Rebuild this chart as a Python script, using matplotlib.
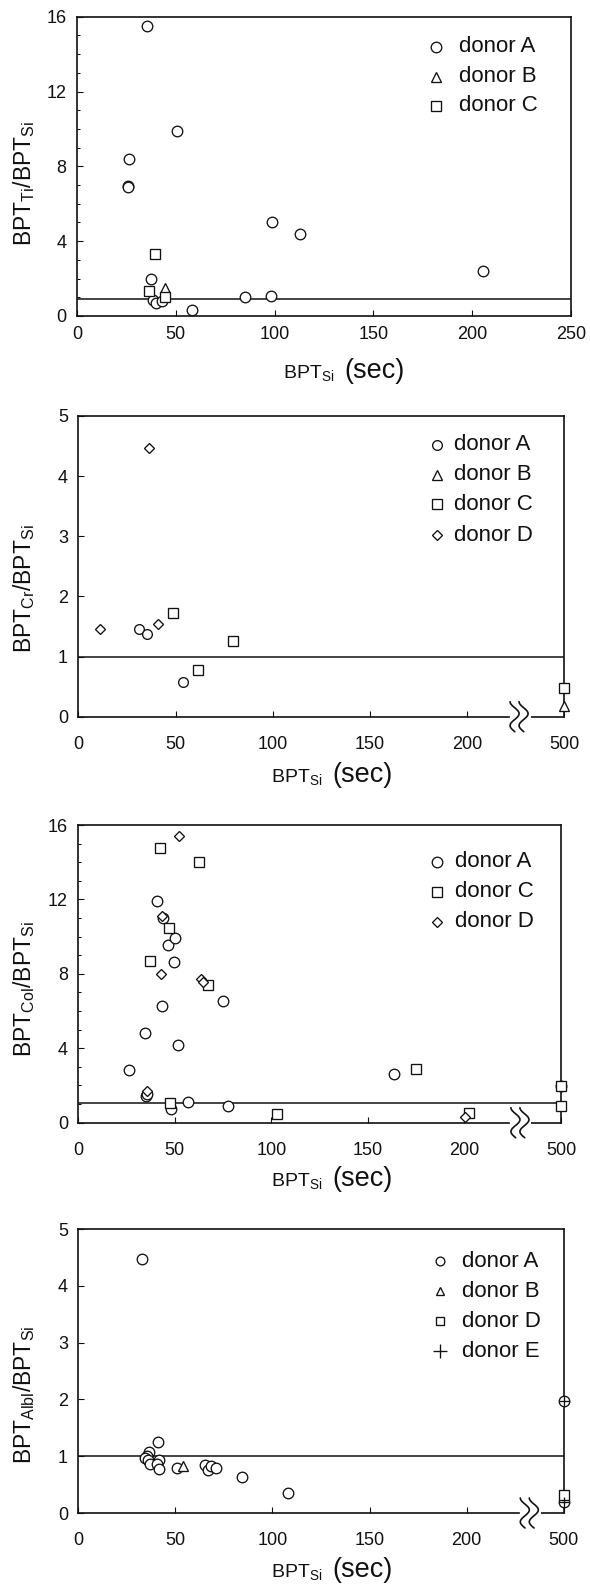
import matplotlib
matplotlib.use('Agg')
import matplotlib.pyplot as plt
import numpy as np
from matplotlib.ticker import MultipleLocator

plt.rcParams['font.family'] = ['Liberation Sans', 'DejaVu Sans']
plt.rcParams['mathtext.fontset'] = 'custom'
plt.rcParams['mathtext.rm'] = 'Liberation Sans'
plt.rcParams['mathtext.it'] = 'Liberation Sans:italic'
plt.rcParams['mathtext.bf'] = 'Liberation Sans:bold'

# ---------------- data ----------------
# Panel 1: Ti
ti_A_x = [35.6, 26.1, 25.7, 25.9, 50.6, 98.7, 113.0, 205.4, 37.7, 38.3, 40.2, 43.1, 58.0, 85.0, 98.0]
ti_A_y = [15.5, 8.4, 6.95, 6.9, 9.9, 5.0, 4.4, 2.4, 2.0, 0.84, 0.68, 0.8, 0.32, 1.0, 1.07]
ti_B_x = [44.3]
ti_B_y = [1.5]
ti_C_x = [39.7, 36.4, 44.3]
ti_C_y = [3.3, 1.35, 1.0]
ti_ref = 0.9

# Panel 2: Cr  (x = 250 is the broken-axis position labelled 500)
cr_A_x = [31.1, 35.4, 53.8]
cr_A_y = [1.45, 1.37, 0.57]
cr_B_x = [250]
cr_B_y = [0.18]
cr_C_x = [48.5, 79.5, 61.7, 250]
cr_C_y = [1.73, 1.26, 0.78, 0.48]
cr_D_x = [36.2, 11.0, 40.8]
cr_D_y = [4.46, 1.45, 1.54]
cr_ref = 1.0

# Panel 3: Col
col_A_x = [40.9, 44.0, 46.4, 49.9, 49.5, 43.4, 74.7, 34.4, 51.6, 26.4, 35.2, 35.8, 56.9, 47.9, 77.7, 163.3, 250]
col_A_y = [11.92, 11.02, 9.55, 9.94, 8.62, 6.29, 6.56, 4.80, 4.17, 2.83, 1.43, 1.54, 1.11, 0.72, 0.90, 2.60, 1.99]
col_C_x = [42.3, 62.4, 46.9, 37.0, 67.1, 175.1, 47.5, 103.1, 202.1, 250, 250]
col_C_y = [14.76, 14.01, 10.48, 8.67, 7.40, 2.88, 1.08, 0.45, 0.50, 1.99, 0.90]
col_D_x = [52.2, 43.4, 42.8, 63.8, 64.7, 35.8, 200.5]
col_D_y = [15.41, 11.13, 7.99, 7.72, 7.58, 1.72, 0.30]
col_ref = 1.07

# Panel 4: Albl
alb_A_x = [32.9, 41.1, 36.2, 35.3, 34.1, 35.9, 37.0, 41.5, 40.5, 41.7, 50.6, 65.3, 66.7, 68.2, 70.7, 84.5, 108.1, 250, 250]
alb_A_y = [4.48, 1.25, 1.07, 1.01, 0.96, 0.93, 0.87, 0.93, 0.86, 0.77, 0.80, 0.85, 0.76, 0.82, 0.80, 0.63, 0.35, 1.98, 0.19]
alb_B_x = [53.7]
alb_B_y = [0.83]
alb_D_x = [250]
alb_D_y = [0.31]
alb_E_x = [250, 250]
alb_E_y = [1.98, 0.19]
alb_ref = 1.0

x_ticks = [0, 50, 100, 150, 200, 250]
x_labels_plain = ['0', '50', '100', '150', '200', '250']
x_labels_break = ['0', '50', '100', '150', '200', '500']

# ---------------- figure ----------------
W, H = 590, 1585
fig = plt.figure(figsize=(W / 100, H / 100), dpi=100)
fig.patch.set_facecolor('white')
INK = '#111111'


def add_axes(l, t, r, b):
    return fig.add_axes([l / W, 1 - b / H, (r - l) / W, (b - t) / H]), (r - l), (b - t)


MK = dict(o=dict(marker='o', ms=7.6),
          s=dict(marker='s', ms=7.6),
          d=dict(marker='D', ms=5.0),
          t=dict(marker='^', ms=7.6),
          p=dict(marker='+', ms=8.0))


def pts(ax, xs, ys, key, ms=None):
    kw = dict(MK[key])
    if ms is not None:
        kw['ms'] = ms
    face = 'none' if key == 'p' else 'white'
    ax.plot(xs, ys, ls='none', mfc=face, mec=INK, mew=0.95, clip_on=False, zorder=4, **kw)


def style(ax, ymax, ystep, minor, xlabels, xpad):
    ax.set_xlim(0, 250)
    ax.set_ylim(0, ymax)
    ax.set_xticks(x_ticks)
    ax.set_xticklabels(xlabels)
    ax.set_yticks(np.arange(0, ymax + 0.01, ystep))
    if minor:
        ax.yaxis.set_minor_locator(MultipleLocator(1))
    for s in ax.spines.values():
        s.set_linewidth(1.2)
        s.set_color(INK)
    ax.tick_params(axis='both', which='major', direction='in', length=4, width=0.8,
                   labelsize=13, colors=INK, top=False, right=False)
    ax.tick_params(axis='y', which='minor', direction='in', length=2.5, width=0.7, right=False)
    ax.tick_params(axis='x', pad=xpad)
    ax.tick_params(axis='y', pad=7.5)


def legend(ax, entries, mx, tx, rows, fs=16):
    for (key, lab, ms), ry in zip(entries, rows):
        kw = dict(MK[key])
        kw['ms'] = ms
        face = 'none' if key == 'p' else 'white'
        ax.plot([mx], [ry], ls='none', mfc=face, mec=INK, mew=0.95,
                transform=ax.transAxes, clip_on=False, **kw)
        ax.text(tx, ry, lab, transform=ax.transAxes, ha='left', va='center',
                fontsize=fs, color=INK)


def axis_break(ax, c, wpx, hpx):
    u = 250.0 / wpx
    tr = ax.get_xaxis_transform()
    ax.spines['bottom'].set_bounds(0, c - 11 * u)
    ax.plot([c + 11 * u, 250], [0, 0], transform=tr, color=INK, lw=1.2,
            solid_capstyle='butt', clip_on=False)
    t = np.linspace(0, 0.88, 80)
    dx = 4.5 - 4.5 * np.cos(2 * np.pi * t / 0.7)
    dy = 15 - 30 * t / 0.88
    for off in (-9.5, -0.5):
        ax.plot(c + (off + dx) * u, dy / hpx, transform=tr, color=INK, lw=1.2,
                clip_on=False, solid_capstyle='round')


def ylabel(ax_box, frac, text):
    t, b = ax_box
    yc = b - frac * (b - t)
    fig.text(24 / W, 1 - yc / H, text, rotation=90, ha='center', va='center',
             fontsize=16.5, color=INK)


def xlabel(x0, base):
    fig.text(x0 / W, 1 - base / H, r'BPT$_\mathregular{Si}$', ha='left', va='baseline',
             fontsize=14, color=INK)
    fig.text((x0 + 61) / W, 1 - base / H, '(sec)', ha='left', va='baseline',
             fontsize=19.5, color=INK)


# ---------- Panel 1 ----------
ax1, w1, h1 = add_axes(77, 16.7, 571, 316)
style(ax1, 16, 4, True, x_labels_plain, 7)
ax1.axhline(ti_ref, color=INK, lw=1.1, zorder=2)
pts(ax1, ti_A_x, ti_A_y, 'o')
pts(ax1, ti_B_x, ti_B_y, 't')
pts(ax1, ti_C_x, ti_C_y, 's')
legend(ax1, [('o', 'donor A', 7.6), ('t', 'donor B', 7.3), ('s', 'donor C', 7.6)],
       0.726, 0.774, [0.90, 0.80, 0.702])
ylabel((16.7, 316), 0.444, r'BPT$_\mathregular{Ti}$/BPT$_\mathregular{Si}$')
xlabel(283, 378)

# ---------- Panel 2 ----------
ax2, w2, h2 = add_axes(78.3, 416, 564.3, 716.7)
style(ax2, 5, 1, False, x_labels_break, 14)
ax2.axhline(cr_ref, color=INK, lw=1.1, zorder=2)
axis_break(ax2, 227, w2, h2)
pts(ax2, cr_A_x, cr_A_y, 'o', 7.0)
pts(ax2, cr_B_x, cr_B_y, 't')
pts(ax2, cr_C_x, cr_C_y, 's')
pts(ax2, cr_D_x, cr_D_y, 'd')
legend(ax2, [('o', 'donor A', 7.0), ('t', 'donor B', 7.0), ('s', 'donor C', 7.4), ('d', 'donor D', 5.0)],
       0.739, 0.774, [0.904, 0.804, 0.706, 0.604])
ylabel((416, 716.7), 0.427, r'BPT$_\mathregular{Cr}$/BPT$_\mathregular{Si}$')
xlabel(271, 782)

# ---------- Panel 3 ----------
ax3, w3, h3 = add_axes(78.3, 825, 561, 1122.7)
style(ax3, 16, 4, True, x_labels_break, 14)
ax3.axhline(col_ref, color=INK, lw=1.1, zorder=2)
axis_break(ax3, 229, w3, h3)
pts(ax3, col_A_x, col_A_y, 'o')
pts(ax3, col_C_x, col_C_y, 's')
pts(ax3, col_D_x, col_D_y, 'd')
legend(ax3, [('o', 'donor A', 7.6), ('s', 'donor C', 7.6), ('d', 'donor D', 5.0)],
       0.743, 0.781, [0.877, 0.776, 0.675])
ylabel((825, 1122.7), 0.448, r'BPT$_\mathregular{Col}$/BPT$_\mathregular{Si}$')
xlabel(271, 1186)

# ---------- Panel 4 ----------
ax4, w4, h4 = add_axes(78.3, 1229, 563.8, 1513)
style(ax4, 5, 1, False, x_labels_break, 14)
ax4.axhline(alb_ref, color=INK, lw=1.1, zorder=2)
axis_break(ax4, 232.5, w4, h4)
pts(ax4, alb_A_x, alb_A_y, 'o')
pts(ax4, alb_B_x, alb_B_y, 't', 6.5)
pts(ax4, alb_D_x, alb_D_y, 's', 7.0)
pts(ax4, alb_E_x, alb_E_y, 'p', 7.6)
legend(ax4, [('o', 'donor A', 6.3), ('t', 'donor B', 5.8), ('s', 'donor D', 6.3), ('p', 'donor E', 9.5)],
       0.746, 0.79, [0.886, 0.78, 0.675, 0.569])
ylabel((1229, 1513), 0.417, r'BPT$_\mathregular{Albl}$/BPT$_\mathregular{Si}$')
xlabel(271, 1576.7)

fig.savefig('out.png', dpi=100, facecolor='white')
